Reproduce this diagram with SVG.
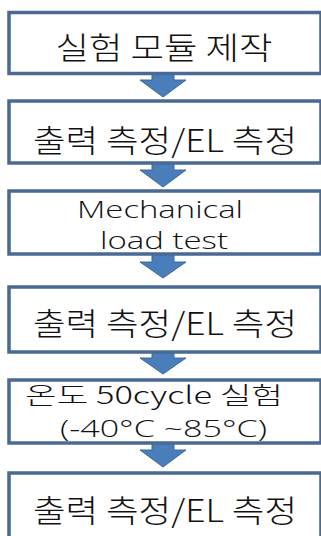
<svg xmlns="http://www.w3.org/2000/svg" width="321" height="536" viewBox="0 0 321 536">
<style>
.box{fill:#fff;stroke:#4A6A94;stroke-width:3.5}
.arr{fill:#4A7EBB;stroke:#3C6698;stroke-width:1}
.t{font-family:"Noto Sans CJK KR","Malgun Gothic",sans-serif;font-weight:300;fill:#111;text-anchor:middle}
.l{font-family:"Open Sans","Noto Sans",sans-serif;font-weight:300;fill:#111;text-anchor:middle}
</style>
<rect width="321" height="536" fill="#fff"/>
<g id="connectors">
<path class="arr" d="M152,73 H174 V80 H186 L163,97 L140,80 H152 Z"/>
<path class="arr" d="M152,163 H174 V170 H186 L163,187 L140,170 H152 Z"/>
<path class="arr" d="M152,254 H174 V262 H186 L163,278 L140,262 H152 Z"/>
<path class="arr" d="M152,352 H174 V358 H186 L163,374 L140,358 H152 Z"/>
<path class="arr" d="M152,443 H174 V450 H186 L163,467 L140,450 H152 Z"/>
</g>
<g id="n1"><rect class="box" x="9" y="12.5" width="312" height="61"/>
<text class="t" x="164" y="59" font-size="31" textLength="217" lengthAdjust="spacingAndGlyphs">실험 모듈 제작</text></g>
<g id="n2"><rect class="box" x="9" y="101" width="312" height="62"/>
<text class="t" x="165" y="152" font-size="31" textLength="264" lengthAdjust="spacingAndGlyphs">출력 측정/EL 측정</text></g>
<g id="n3"><rect class="box" x="9" y="191" width="312" height="63"/>
<text class="l" x="160" y="218" font-size="24" textLength="166" lengthAdjust="spacingAndGlyphs">Mechanical</text>
<text class="l" x="164" y="249" font-size="24" textLength="128" lengthAdjust="spacingAndGlyphs">load test</text></g>
<g id="n4"><rect class="box" x="9" y="287" width="312" height="65"/>
<text class="t" x="165" y="335" font-size="31" textLength="264" lengthAdjust="spacingAndGlyphs">출력 측정/EL 측정</text></g>
<g id="n5"><rect class="box" x="9" y="380" width="312" height="63"/>
<text class="t" x="154" y="404" font-size="24" textLength="258" lengthAdjust="spacingAndGlyphs">온도 50cycle 실험</text>
<text class="l" x="163.5" y="437" font-size="24" textLength="207" lengthAdjust="spacingAndGlyphs">(-40°C ~85°C)</text></g>
<g id="n6"><rect class="box" x="9" y="473" width="312" height="70"/>
<text class="t" x="165" y="522" font-size="31" textLength="264" lengthAdjust="spacingAndGlyphs">출력 측정/EL 측정</text></g>
</svg>
